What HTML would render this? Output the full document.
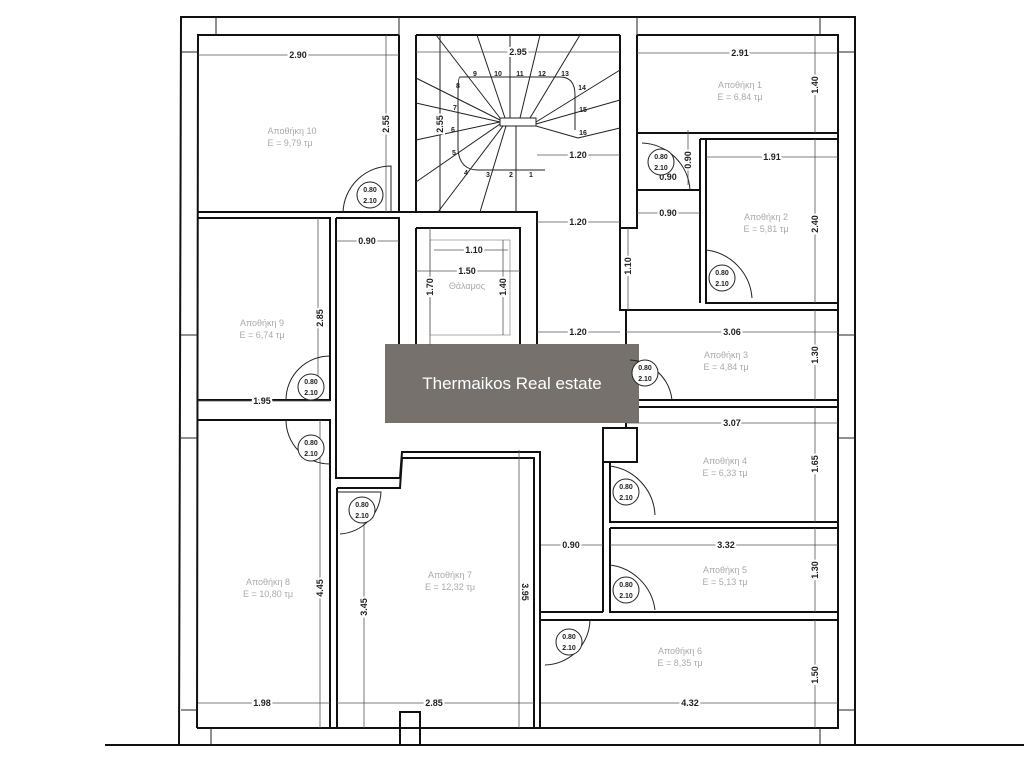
<!DOCTYPE html>
<html><head><meta charset="utf-8"><style>
html,body{margin:0;padding:0;background:#fff;}
svg{display:block;}
.w{fill:none;stroke:#111;stroke-width:2;}
.t{fill:none;stroke:#222;stroke-width:1;}
.d{stroke:#555;stroke-width:0.8;fill:none;}
.dt{font-family:"Liberation Sans",sans-serif;font-size:9px;font-weight:bold;fill:#222;text-anchor:middle;}
.rl{font-family:"Liberation Sans","DejaVu Sans",sans-serif;font-size:9px;fill:#aaa;text-anchor:middle;}
.dr{font-family:"Liberation Sans",sans-serif;font-size:7px;font-weight:bold;fill:#222;text-anchor:middle;}
</style></head><body>
<svg width="1024" height="768" viewBox="0 0 1024 768" xmlns="http://www.w3.org/2000/svg">
<rect width="1024" height="768" fill="#fff"/>
<line x1="105" y1="745" x2="1024" y2="745" stroke="#111" stroke-width="2"/>
<path class="w" d="M179 745 L181 17 L855 17 L855 745"/>
<path class="w" d="M197 728 L198 35 L399 35 M416 35 L620 35 M637 35 L838 35 L838 728 L197 728"/>
<line class="t" x1="181" y1="52" x2="198" y2="52"/><line class="t" x1="216" y1="17" x2="216" y2="35"/>
<line class="t" x1="181" y1="335" x2="198" y2="335"/><line class="t" x1="181" y1="438" x2="198" y2="438"/>
<line class="t" x1="181" y1="710" x2="197" y2="710"/><line class="t" x1="211" y1="728" x2="211" y2="745"/>
<line class="t" x1="820" y1="17" x2="820" y2="35"/><line class="t" x1="838" y1="52" x2="855" y2="52"/>
<line class="t" x1="838" y1="335" x2="855" y2="335"/><line class="t" x1="838" y1="438" x2="855" y2="438"/>
<line class="t" x1="838" y1="710" x2="855" y2="710"/><line class="t" x1="820" y1="728" x2="820" y2="745"/>
<line class="t" x1="399" y1="17" x2="399" y2="35"/><line class="t" x1="637" y1="17" x2="637" y2="35"/>
<rect class="w" x="400" y="712" width="20" height="33"/>
<path class="w" d="M399 35 L399 212 L198 212 M198 218 L330 218 L330 400 L198 400 M198 420 L330 420 L330 728"/>
<path class="w" d="M336 218 L399 218 L399 345 M336 218 L336 478 L400 478 L402 452 L540 452 L540 728 M603 428 L603 612 M337 488 L400 488 L402 458 L534 458 L534 728 M337 488 L337 728"/>
<path class="w" d="M416 35 L416 212 L537 212 L537 345 M620 35 L620 228 L637 228 L637 35"/>
<path class="w" d="M399 212 L416 212 M416 228 L520 228 L520 345 L416 345 L416 228"/>
<rect x="430" y="240" width="80" height="95" fill="none" stroke="#999" stroke-width="0.8"/>
<path class="t" d="M460 77 L560 77 Q575 77 575 95 L575 130 M460 77 Q458 77 458 95 L458 150 Q460 170 478 170 L545 170"/>
<rect class="t" x="500" y="118" width="36" height="8"/>
<g class="t">
<line x1="500" y1="122" x2="416" y2="140"/><line x1="500" y1="122" x2="416" y2="103"/>
<line x1="500" y1="120" x2="416" y2="78"/><line x1="500" y1="118" x2="436" y2="35"/>
<line x1="505" y1="118" x2="477" y2="35"/><line x1="510" y1="118" x2="510" y2="35"/>
<line x1="520" y1="118" x2="540" y2="35"/><line x1="530" y1="118" x2="580" y2="35"/>
<line x1="536" y1="122" x2="620" y2="70"/><line x1="536" y1="124" x2="620" y2="100"/>
<line x1="536" y1="126" x2="578" y2="138"/><line x1="578" y1="138" x2="620" y2="128"/>
<line x1="500" y1="124" x2="416" y2="182"/><line x1="503" y1="126" x2="438" y2="212"/>
<line x1="506" y1="126" x2="480" y2="212"/><line x1="516" y1="126" x2="516" y2="212"/>
<line x1="440" y1="35" x2="440" y2="212"/>
</g>
<g class="dt" style="font-size:7px">
<text x="475" y="76">9</text><text x="498" y="76">10</text><text x="520" y="76">11</text><text x="542" y="76">12</text><text x="565" y="76">13</text>
<text x="582" y="90">14</text><text x="583" y="112">15</text><text x="583" y="135">16</text>
<text x="458" y="88">8</text><text x="455" y="110">7</text><text x="453" y="132">6</text><text x="454" y="155">5</text>
<text x="466" y="175">4</text><text x="488" y="177">3</text><text x="511" y="177">2</text><text x="531" y="177">1</text>
</g>
<path class="w" d="M637 133 L838 133 M700 139 L838 139 M700 139 L700 303 M706 139 L706 303 L838 303 M637 190 L700 190 M620 228 L620 310 L838 310 M626 310 L626 428 M626 400 L838 400 M626 407 L838 407 M610 462 L610 522 L838 522 M610 528 L838 528 M610 528 L610 612 L838 612 M541 612 L603 612 M541 620 L838 620"/>
<rect class="w" x="603" y="428" width="34" height="34"/>
<rect x="385" y="344" width="254" height="79" fill="#76716d"/>
<text x="512" y="389" font-family="Liberation Sans,sans-serif" font-size="17" fill="#fff" text-anchor="middle">Thermaikos Real estate</text>
<g class="d">
<line x1="198" y1="55" x2="399" y2="55"/><line x1="416" y1="52" x2="620" y2="52"/><line x1="637" y1="53" x2="838" y2="53"/>
<line x1="815" y1="35" x2="815" y2="133"/><line x1="386" y1="35" x2="386" y2="212"/>
<line x1="537" y1="155" x2="620" y2="155"/><line x1="537" y1="222" x2="620" y2="222"/><line x1="537" y1="332" x2="620" y2="332"/>
<line x1="336" y1="241" x2="399" y2="241"/><line x1="434" y1="250" x2="508" y2="250"/><line x1="416" y1="271" x2="520" y2="271"/>
<line x1="430" y1="228" x2="430" y2="345"/><line x1="503" y1="240" x2="503" y2="335"/>
<line x1="706" y1="157" x2="838" y2="157"/><line x1="815" y1="139" x2="815" y2="303"/><line x1="637" y1="213" x2="700" y2="213"/>
<line x1="688" y1="130" x2="688" y2="185"/><line x1="628" y1="228" x2="628" y2="310"/>
<line x1="626" y1="332" x2="838" y2="332"/><line x1="815" y1="310" x2="815" y2="400"/>
<line x1="626" y1="423" x2="838" y2="423"/><line x1="815" y1="407" x2="815" y2="522"/>
<line x1="610" y1="545" x2="838" y2="545"/><line x1="541" y1="545" x2="603" y2="545"/><line x1="815" y1="528" x2="815" y2="612"/>
<line x1="541" y1="703" x2="838" y2="703"/><line x1="815" y1="620" x2="815" y2="728"/>
<line x1="198" y1="703" x2="330" y2="703"/><line x1="337" y1="703" x2="534" y2="703"/>
<line x1="320" y1="420" x2="320" y2="728"/><line x1="364" y1="500" x2="364" y2="728"/><line x1="519" y1="450" x2="519" y2="728"/>
<line x1="318" y1="218" x2="318" y2="400"/><line x1="198" y1="401" x2="330" y2="401"/>
</g>
<g class="dt" stroke="#fff" stroke-width="4" style="paint-order:stroke">
<text x="298" y="58">2.90</text>
<text x="518" y="55">2.95</text>
<text x="740" y="56">2.91</text>
<text x="578" y="158">1.20</text>
<text x="578" y="225">1.20</text>
<text x="578" y="335">1.20</text>
<text x="367" y="244">0.90</text>
<text x="474" y="253">1.10</text>
<text x="467" y="274">1.50</text>
<text x="772" y="160">1.91</text>
<text x="668" y="216">0.90</text>
<text x="668" y="180">0.90</text>
<text x="732" y="335">3.06</text>
<text x="732" y="426">3.07</text>
<text x="726" y="548">3.32</text>
<text x="571" y="548">0.90</text>
<text x="690" y="706">4.32</text>
<text x="262" y="706">1.98</text>
<text x="434" y="706">2.85</text>
<text x="262" y="404">1.95</text>
<text transform="translate(818,85) rotate(-90)">1.40</text>
<text transform="translate(389,124) rotate(-90)">2.55</text>
<text transform="translate(443,124) rotate(-90)">2.55</text>
<text transform="translate(433,287) rotate(-90)">1.70</text>
<text transform="translate(506,287) rotate(-90)">1.40</text>
<text transform="translate(818,224) rotate(-90)">2.40</text>
<text transform="translate(691,160) rotate(-90)">0.90</text>
<text transform="translate(631,266) rotate(-90)">1.10</text>
<text transform="translate(818,355) rotate(-90)">1.30</text>
<text transform="translate(818,464) rotate(-90)">1.65</text>
<text transform="translate(818,570) rotate(-90)">1.30</text>
<text transform="translate(818,675) rotate(-90)">1.50</text>
<text transform="translate(323,318) rotate(-90)">2.85</text>
<text transform="translate(323,588) rotate(-90)">4.45</text>
<text transform="translate(367,607) rotate(-90)">3.45</text>
<text transform="translate(522,592) rotate(90)">3.95</text>
</g>
<g class="rl">
<text x="292" y="134">Αποθήκη 10</text><text x="290" y="146">Ε = 9,79 τμ</text>
<text x="262" y="326">Αποθήκη 9</text><text x="262" y="338">Ε = 6,74 τμ</text>
<text x="268" y="585">Αποθήκη 8</text><text x="268" y="597">Ε = 10,80 τμ</text>
<text x="450" y="578">Αποθήκη 7</text><text x="450" y="590">Ε = 12,32 τμ</text>
<text x="467" y="289">Θάλαμος</text>
<text x="740" y="88">Αποθήκη 1</text><text x="740" y="100">Ε = 6,84 τμ</text>
<text x="766" y="220">Αποθήκη 2</text><text x="766" y="232">Ε = 5,81 τμ</text>
<text x="726" y="358">Αποθήκη 3</text><text x="726" y="370">Ε = 4,84 τμ</text>
<text x="725" y="464">Αποθήκη 4</text><text x="725" y="476">Ε = 6,33 τμ</text>
<text x="725" y="573">Αποθήκη 5</text><text x="725" y="585">Ε = 5,13 τμ</text>
<text x="680" y="654">Αποθήκη 6</text><text x="680" y="666">Ε = 8,35 τμ</text>
</g>
<g>
<path class="t" d="M343 212 A48 48 0 0 1 391 166 L391 212"/>
<path class="t" d="M286 400 A44 44 0 0 1 330 356"/><path class="t" d="M286 420 A44 44 0 0 0 330 464"/>
<path class="t" d="M337 492 L381 492 A44 44 0 0 1 340 534"/>
<path class="t" d="M642 143 A50 50 0 0 1 690 190"/>
<path class="t" d="M706 250 A52 52 0 0 1 752 298"/>
<path class="t" d="M630 360 A45 45 0 0 1 672 400"/>
<path class="t" d="M610 466 A52 52 0 0 1 655 515"/>
<path class="t" d="M610 565 A52 52 0 0 1 655 610"/>
<path class="t" d="M590 620 A46 46 0 0 1 545 665"/>
</g>
<g fill="#fff" stroke="#222" stroke-width="1">
<circle cx="370" cy="195" r="13"/><circle cx="311" cy="387" r="13"/><circle cx="311" cy="448" r="13"/>
<circle cx="362" cy="510" r="13"/><circle cx="661" cy="162" r="13"/><circle cx="722" cy="278" r="13"/>
<circle cx="645" cy="373" r="13"/><circle cx="626" cy="492" r="13"/><circle cx="626" cy="590" r="13"/><circle cx="569" cy="642" r="13"/>
</g>
<g class="dr">
<text x="370" y="192">0.80</text><text x="370" y="203">2.10</text>
<text x="311" y="384">0.80</text><text x="311" y="395">2.10</text>
<text x="311" y="445">0.80</text><text x="311" y="456">2.10</text>
<text x="362" y="507">0.80</text><text x="362" y="518">2.10</text>
<text x="661" y="159">0.80</text><text x="661" y="170">2.10</text>
<text x="722" y="275">0.80</text><text x="722" y="286">2.10</text>
<text x="645" y="370">0.80</text><text x="645" y="381">2.10</text>
<text x="626" y="489">0.80</text><text x="626" y="500">2.10</text>
<text x="626" y="587">0.80</text><text x="626" y="598">2.10</text>
<text x="569" y="639">0.80</text><text x="569" y="650">2.10</text>
</g>
</svg>
</body></html>
